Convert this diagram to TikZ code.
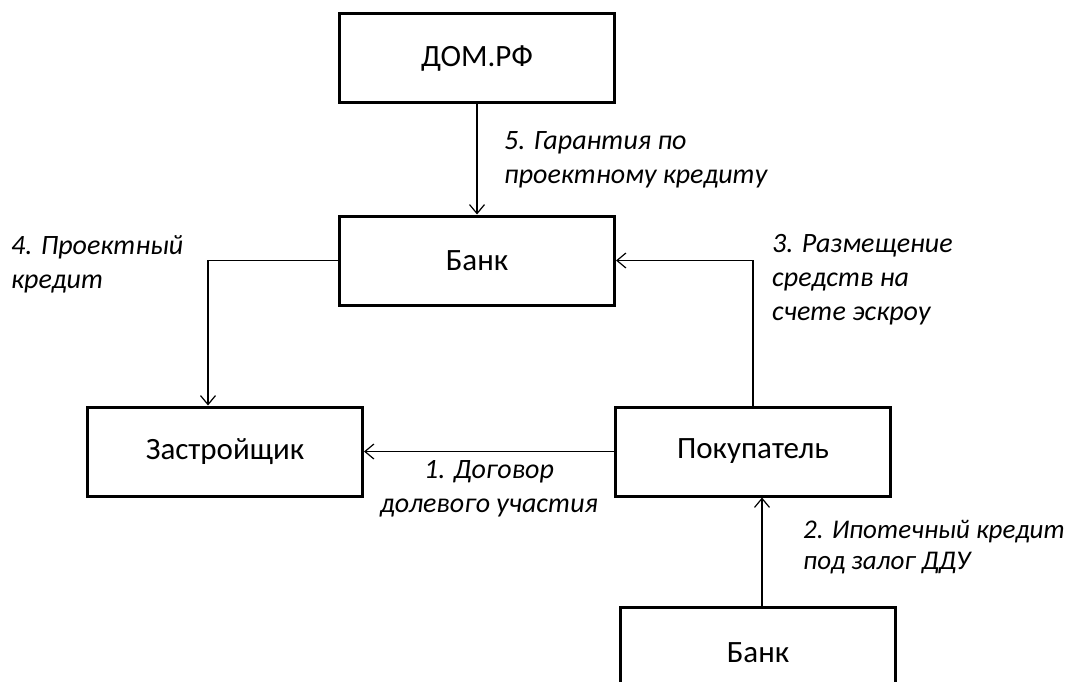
\documentclass[tikz,border=0pt]{standalone}
\usepackage{fontspec}
\setmainfont{Carlito}
\usepackage{tikz}
\usetikzlibrary{arrows.meta, positioning}

\begin{document}
\begin{tikzpicture}[
    x=1pt, y=1pt,
    node distance=110pt and 250pt,
    box/.style={rectangle, draw=black, line width=3pt, minimum width=275pt, minimum height=89pt, align=center, font=\fontsize{31}{37}\selectfont},
    lbl/.style={inner sep=0pt, align=left, anchor=west, font=\fontsize{28}{34}\selectfont\itshape},
    line/.style={draw, line width=1.2pt, -{Straight Barb[length=9pt, width=15pt, line width=1.2pt]}}
  ]
    \useasboundingbox (0,0) rectangle (1070,-682);

    \node (dom) [box] at (477,-58.5) {ДОМ.РФ};
    \node (bank) [box, below=110pt of dom] {Банк};
    \node (builder) [box, below=99pt of bank, xshift=-252pt] {Застройщик};
    \node (buyer) [box, right=250pt of builder] {Покупатель};
    \node (bank2) [box, below=108pt of buyer, xshift=5pt, minimum height=120pt, anchor=north] {};
    \node at ([yshift=-47pt]bank2.north) {\fontsize{31}{37}\selectfont Банк};

    \node (lbl5) [lbl] at (504,-160) {5. Гарантия по\\проектному кредиту};
    \node (lbl4) [lbl] at (11,-264) {4. Проектный\\кредит};
    \node (lbl3) [lbl] at (772,-280) {3. Размещение\\средств на\\счете эскроу};
    \node (lbl1) [lbl, align=center, anchor=center] at (489,-489) {1. Договор\\долевого участия};
    \node (lbl2) [lbl, font=\fontsize{27}{31}\selectfont\itshape] at (803,-547) {2. Ипотечный кредит\\под залог ДДУ};

    \draw[line] (dom) -- (bank);
    \draw[line] (bank.west) -| ([xshift=-17pt]builder.north);
    \draw[line] (buyer.north) |- (bank.east);
    \draw[line] (buyer.west) -- (builder.east);
    \draw[line] ([xshift=4pt]bank2.north) -- ([xshift=4pt]bank2.north |- buyer.south);
  \end{tikzpicture}
\end{document}
